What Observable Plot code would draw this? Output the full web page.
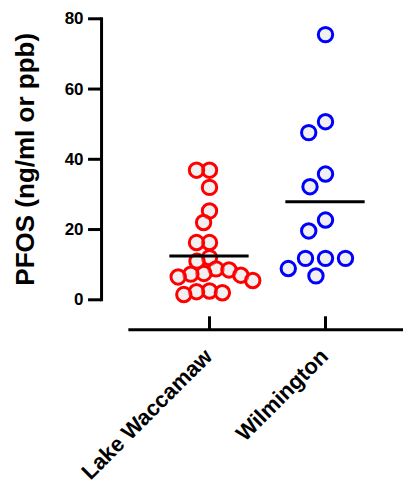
<!DOCTYPE html>
<html>
<head>
<meta charset="utf-8">
<script src="https://cdn.jsdelivr.net/npm/d3@7"></script>
<script src="https://cdn.jsdelivr.net/npm/@observablehq/plot@0.6"></script>
<style>
  html, body { margin: 0; padding: 0; background: #fff; }
  #chart svg { display: block; }
</style>
</head>
<body>
<div id="chart"></div>
<script>
// ---- data ----
const sites = ["Lake Waccamaw", "Wilmington"];
const lakeWaccamawValues = [36.9, 36.9, 32.0, 25.3, 22.0, 16.3, 16.3, 12.0, 11.0, 8.8, 8.5, 7.5, 7.3, 7.0, 6.5, 5.5, 2.5, 2.3, 2.0, 1.5];
const wilmingtonValues = [75.5, 50.7, 47.6, 35.8, 32.2, 22.7, 19.6, 11.8, 11.8, 11.8, 8.9, 6.8];
const meanValues = [12.5, 27.9];
const yTicks = [0, 20, 40, 60, 80];
const yLabel = "PFOS (ng/ml or ppb)";
const siteColors = ["#ff0000", "#0000ff"];

// ---- tables built from the arrays ----
const lakeRows = lakeWaccamawValues.map(v => ({site: sites[0], value: v}));
const wilmRows = wilmingtonValues.map(v => ({site: sites[1], value: v}));
const means = sites.map((s, i) => ({site: s, mean: meanValues[i]}));

// ---- layout ----
const W = 403, H = 487;
const mTop = 18.3, mBottom = 187.7, mLeft = 149.95, mRight = 19.65;
const frameH = H - mTop - mBottom;
const bandW = (W - mLeft - mRight) / sites.length;
const yAxisX = 100;          // where the y axis line sits
const xAxisGap = 30;         // x axis line below the frame bottom
const xAxisStart = 128.3;    // left end of the x axis line

const dotStyle = {fx: "site", y: "value", r: 7.2, stroke: "site", strokeWidth: 3, fill: "#d9d9d9", fillOpacity: 0.4};

const chart = Plot.plot({
  width: W,
  height: H,
  marginTop: mTop,
  marginBottom: mBottom,
  marginLeft: mLeft,
  marginRight: mRight,
  style: {fontFamily: "'Liberation Sans', Arial, sans-serif", fontSize: "17px", background: "#fff", color: "#000"},
  fx: {domain: sites, padding: 0, label: null},
  y: {domain: [0, 80]},
  color: {domain: sites, range: siteColors},
  marks: [
    // y axis line
    Plot.frame({anchor: "left", facetAnchor: "left", dx: yAxisX - mLeft, strokeWidth: 3}),
    Plot.axisY({
      ticks: yTicks, tickSize: 13, tickPadding: 5, strokeWidth: 3,
      fontSize: 17, fontWeight: "bold", dx: yAxisX - mLeft, label: null
    }),
    Plot.text([yLabel], {
      frameAnchor: "left", textAnchor: "middle", lineAnchor: "middle", rotate: -90, dx: 24 - mLeft,
      fontSize: 26, fontWeight: "bold", facetAnchor: "left"
    }),
    // x axis line (drawn once, from the left facet across to the right edge) and ticks
    Plot.frame({
      anchor: "bottom", facetAnchor: "left", dy: xAxisGap,
      insetLeft: xAxisStart - mLeft, insetRight: -(bandW + mRight), strokeWidth: 3
    }),
    Plot.ruleX(sites, {fx: d => d, x: null, insetTop: frameH - 13, dy: xAxisGap, strokeWidth: 3}),
    Plot.axisFx({
      anchor: "bottom", tickSize: 0, tickPadding: 0, tickRotate: -45,
      fontSize: 22, fontWeight: "bold", dy: 53, dx: -1, label: null
    }),
    // points
    Plot.dot(lakeRows, Plot.dodgeX({anchor: "middle", padding: 0, r: 6.5}, dotStyle)),
    Plot.dot(wilmRows, Plot.dodgeX({anchor: "middle", padding: 0, r: 10}, dotStyle)),
    // mean lines
    Plot.tickY(means, {fx: "site", y: "mean", insetLeft: 18.35, insetRight: 18.35, strokeWidth: 3})
  ]
});

document.getElementById("chart").append(chart);
</script>
</body>
</html>
